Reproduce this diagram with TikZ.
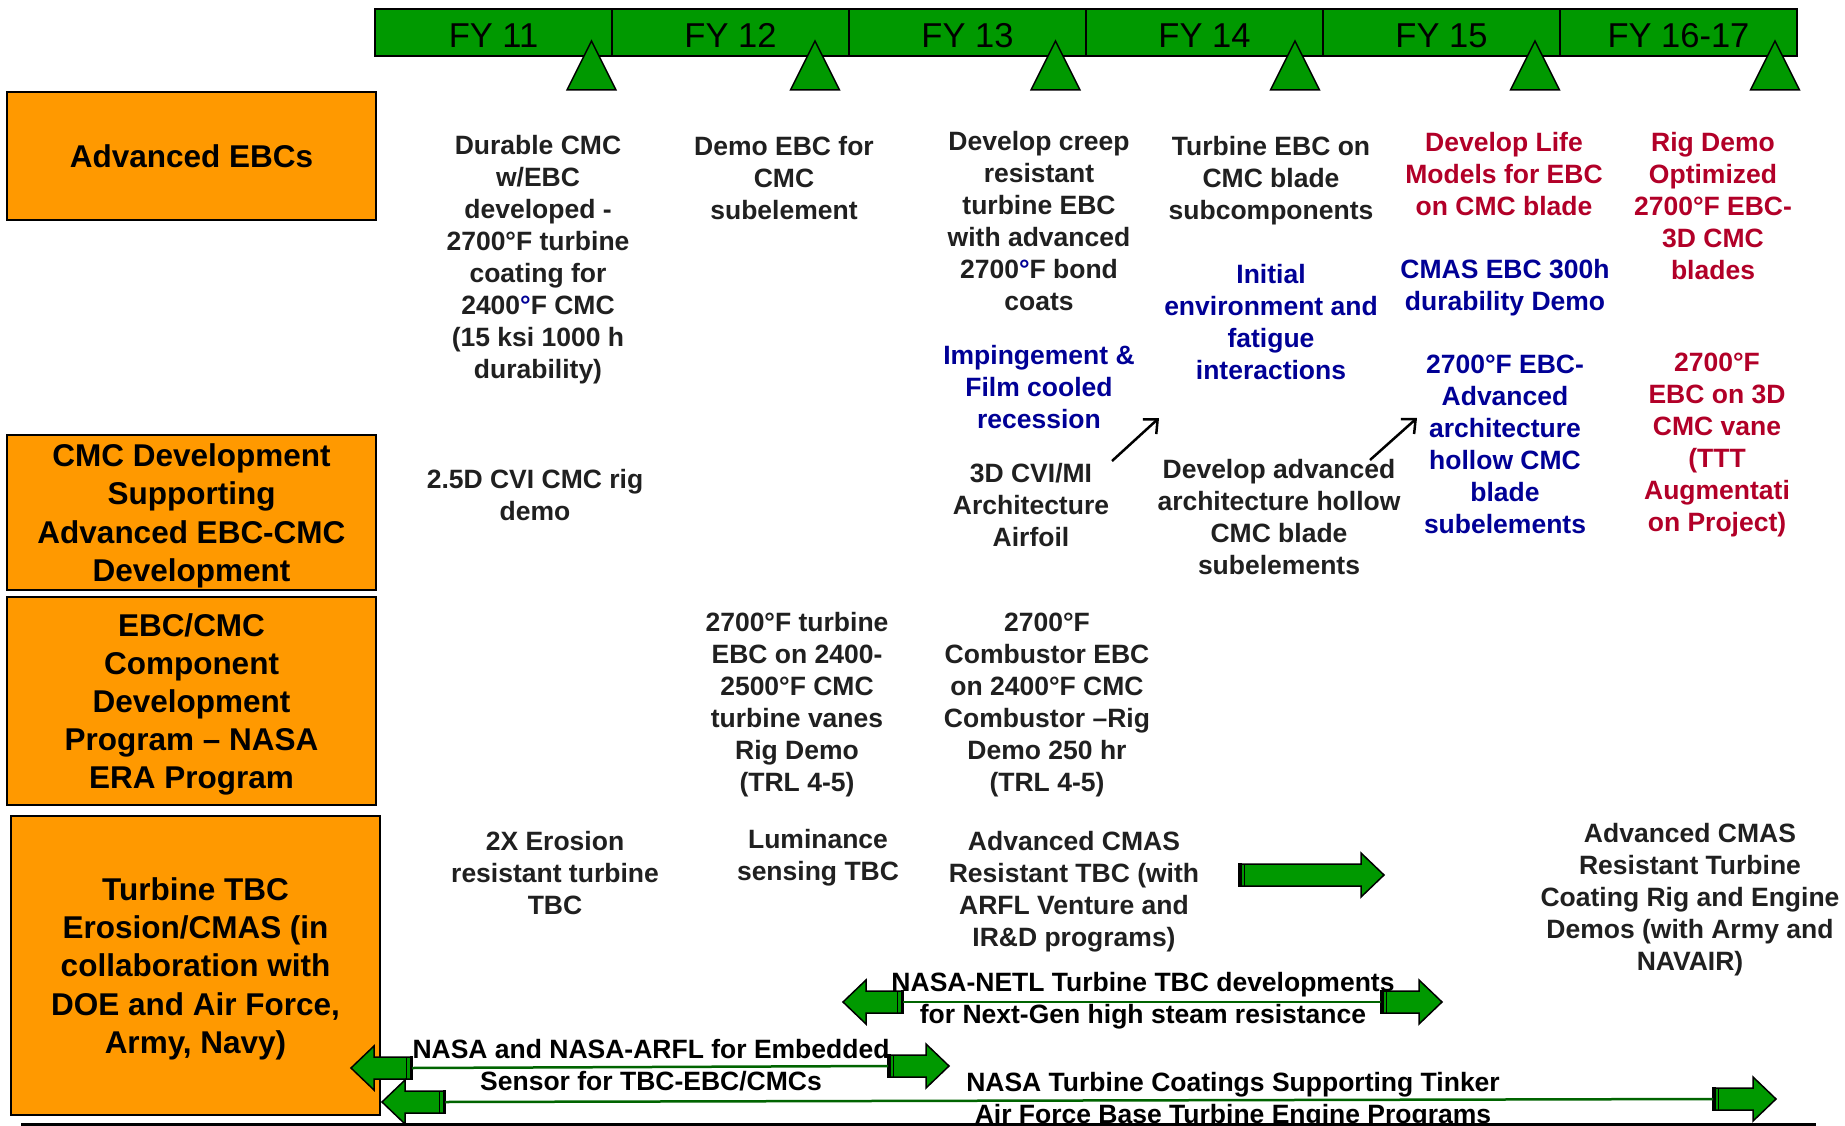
\documentclass[tikz,border=0pt]{standalone}
\usepackage{fontspec}
\setmainfont{Liberation Sans}
\usetikzlibrary{arrows.meta}
\definecolor{barfill}{RGB}{0,153,0}
\definecolor{orangefill}{RGB}{255,153,0}
\definecolor{txtgray}{RGB}{32,32,32}
\definecolor{txtblue}{RGB}{0,0,150}
\definecolor{txtred}{RGB}{178,0,40}
\definecolor{linegreen}{RGB}{0,100,0}
\newcommand{\stubarrow}[5]{%
  \coordinate (#1) at (#2,#3);
  \begin{scope}[shift={(#1)}, xscale=#4]
    \draw[blockarrow] (0,-11) -- (#5,-11) -- (#5,-22) -- ({#5+23},0) -- (#5,22) -- (#5,11) -- (0,11) -- cycle;
    \fill[black] (-1,-12) rectangle (2.5,12);
    \draw[line width=1.2pt] (5.5,-11) -- (5.5,11);
  \end{scope}}
\tikzset{
  body/.style={font=\bfseries\fontsize{26.5}{32}\selectfont, text=txtgray, align=center, inner sep=0pt,
    yshift=-2.65pt,
    execute at begin node={\rule{0pt}{20pt}},
    execute at end node={\rule[-6pt]{0pt}{6pt}}},
  bluet/.style={body, text=txtblue},
  redt/.style={body, text=txtred},
  catbox/.style={draw=black, line width=2pt, fill=orangefill, text=black,
    font=\bfseries\fontsize{31.5}{38.2}\selectfont, align=center, inner sep=0pt,
    minimum width=369pt},
  yearbox/.style={draw=black, line width=2pt, fill=barfill, text=black,
    font=\fontsize{34.5}{40}\selectfont, inner sep=0pt, minimum width=237pt, minimum height=47pt,
    text height=29.4pt, text depth=0pt},
  milestone/.style={draw=black, line width=1.5pt, fill=barfill},
  blockarrow/.style={draw=black, line width=1.5pt, fill=barfill, line join=miter},
  greenline/.style={draw=linegreen, line width=2.5pt},
  thinarrow/.style={draw=black, line width=2.5pt, -{Straight Barb[length=11pt,width=20pt]}},
}
\begin{document}
\begin{tikzpicture}[x=1pt,y=-1pt]
\useasboundingbox (0,0) rectangle (1845,1126);
\fill[white] (0,0) rectangle (1845,1126);

% year bar
\node[yearbox] (fy11) at (493.5,33) {FY 11};
\node[yearbox] (fy12) at (730.5,33) {FY 12};
\node[yearbox] (fy13) at (967.5,33) {FY 13};
\node[yearbox] (fy14) at (1204.5,33) {FY 14};
\node[yearbox] (fy15) at (1441.5,33) {FY 15};
\node[yearbox] (fy16) at (1678.5,33) {FY 16-17};

% milestones
\foreach \mx in {591.5,815,1055.5,1295,1535,1775}{
  \draw[milestone] (\mx,41) -- (\mx+24.5,90) -- (\mx-24.5,90) -- cycle;
}

% category boxes
\node[catbox, minimum height=128pt] (cat1) at (191.5,156) {Advanced EBCs};
\node[catbox, minimum height=155pt, text depth=-5pt] (cat2) at (191.5,512.5) {CMC Development\\Supporting\\Advanced EBC-CMC\\Development};
\node[catbox, minimum height=208pt, text depth=-5pt] (cat3) at (191.5,701) {EBC/CMC\\Component\\Development\\Program – NASA\\ERA Program};
\node[catbox, minimum height=299pt, text depth=-6.5pt] (cat4) at (195.5,965.5) {Turbine TBC\\Erosion/CMAS (in\\collaboration with\\DOE and Air Force,\\Army, Navy)};

% row 1: Advanced EBCs
\node[body] (durable) at (538,257) {Durable CMC\\w/EBC\\developed -\\2700°F turbine\\coating for\\2400{\color{txtblue}°}F CMC\\(15 ksi 1000 h\\durability)};
\node[body] (demoebc) at (784,178) {Demo EBC for\\CMC\\subelement};
\node[body] (creep) at (1039,221) {Develop creep\\resistant\\turbine EBC\\with advanced\\2700{\color{txtblue}°}F bond\\coats};
\node[bluet] (imping) at (1039,387) {Impingement \&\\Film cooled\\recession};
\node[body] (turbebc) at (1271,178) {Turbine EBC on\\CMC blade\\subcomponents};
\node[bluet] (initial) at (1271,322) {Initial\\environment and\\fatigue\\interactions};
\node[redt] (lifemod) at (1504,174) {Develop Life\\Models for EBC\\on CMC blade};
\node[bluet] (cmas300) at (1505,285) {CMAS EBC 300h\\durability Demo};
\node[bluet] (adv2700) at (1505,445) {2700°F EBC-\\Advanced\\architecture\\hollow CMC\\blade\\subelements};
\node[redt] (rigdemo) at (1713,206) {Rig Demo\\Optimized\\2700°F EBC-\\3D CMC\\blades};
\node[redt] (vane3d) at (1717,443) {2700°F\\EBC on 3D\\CMC vane\\(TTT\\Augmentati\\on Project)};

% row 2: CMC development
\node[body] (cvirig) at (535,495) {2.5D CVI CMC rig\\demo};
\node[body] (cvimi) at (1031,505) {3D CVI/MI\\Architecture\\Airfoil};
\node[body] (devadv) at (1279,517) {Develop advanced\\architecture hollow\\CMC blade\\subelements};

% row 3: ERA
\node[body] (turbvane) at (797,702.5) {2700°F turbine\\EBC on 2400-\\2500°F CMC\\turbine vanes\\Rig Demo\\(TRL 4-5)};
\node[body] (combust) at (1047,702.5) {2700°F\\Combustor EBC\\on 2400°F CMC\\Combustor –Rig\\Demo 250 hr\\(TRL 4-5)};

% row 4: TBC
\node[body] (erosion) at (555,873) {2X Erosion\\resistant turbine\\TBC};
\node[body] (lumin) at (818,855) {Luminance\\sensing TBC};
\node[body] (cmastbc) at (1074,889.5) {Advanced CMAS\\Resistant TBC (with\\ARFL Venture and\\IR\&D programs)};
\node[body] (cmasturb) at (1690,897) {Advanced CMAS\\Resistant Turbine\\Coating Rig and Engine\\Demos (with Army and\\NAVAIR)};

% small black arrows
\coordinate (sa1s) at (1112,461);
\coordinate (sa1e) at (1159,418);
\coordinate (sa2s) at (1370,460);
\coordinate (sa2e) at (1417,418);
\draw[thinarrow] (sa1s) -- (sa1e);
\draw[thinarrow] (sa2s) -- (sa2e);

% block arrows
\stubarrow{cmasarrow}{1239}{875}{1}{122}
\stubarrow{netlL}{903}{1002}{-1}{37}
\stubarrow{netlR}{1381}{1002}{1}{38}
\draw[greenline] (netlL) -- (netlR);
\stubarrow{arflL}{412}{1068}{-1}{38}
\stubarrow{arflR}{888}{1066}{1}{38}
\draw[greenline] (arflL) -- (arflR);
\stubarrow{tinkL}{445}{1102}{-1}{40}
\stubarrow{tinkR}{1713}{1099}{1}{40}
\draw[greenline] (tinkL) -- (tinkR);

% arrow labels
\node[body, text=black] (netltxt) at (1143,998) {NASA-NETL Turbine TBC developments\\for Next-Gen high steam resistance};
\node[body, text=black] (arfltxt) at (651,1065) {NASA and NASA-ARFL for Embedded\\Sensor for TBC-EBC/CMCs};
\node[body, text=black] (tinktxt) at (1233,1098) {NASA Turbine Coatings Supporting Tinker\\Air Force Base Turbine Engine Programs};

% bottom rule
\coordinate (ruleL) at (21,1124);
\coordinate (ruleR) at (1816,1124);
\draw[line width=3pt] (ruleL) -- (ruleR);
\end{tikzpicture}
\end{document}
